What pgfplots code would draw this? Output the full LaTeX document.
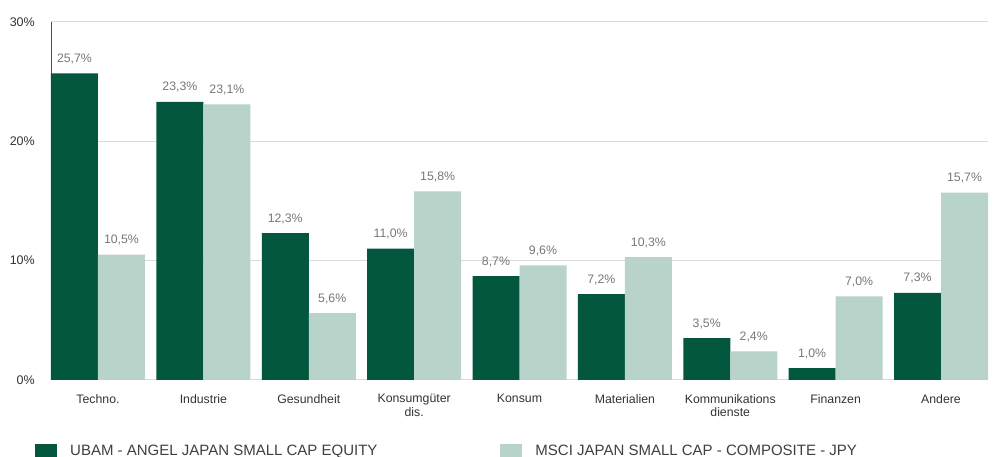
\documentclass[border=0pt]{standalone}
\usepackage{pgfplots}
\pgfplotsset{compat=1.18}
\usepackage{fontspec}
\setmainfont{Liberation Sans}
\definecolor{darkg}{HTML}{03573F}
\definecolor{lightg}{HTML}{B8D3C9}
\definecolor{valgray}{HTML}{777777}
\definecolor{tickgray}{HTML}{333333}
\definecolor{gridgray}{HTML}{DADADA}
\begin{document}
\begin{tikzpicture}
\useasboundingbox (-51pt,-77pt) rectangle (943pt,380pt);
\begin{axis}[
  at={(0pt,0pt)}, anchor=south west,
  scale only axis, width=937pt, height=358pt,
  ybar=0pt, bar width=47pt,
  xmin=-0.446, xmax=8.446, ymin=0, ymax=30,
  xtick={0,1,2,3,4,5,6,7,8},
  xticklabels={Techno.,Industrie,Gesundheit,{Konsumgüter\\dis.},Konsum,Materialien,{Kommunikations\\dienste},Finanzen,Andere},
  ytick={0,10,20,30},
  yticklabels={0\%,10\%,20\%,30\%},
  major tick length=0pt,
  axis x line*=bottom, axis y line*=left,
  x axis line style={draw=gridgray, line width=1pt, -},
  y axis line style={draw=black!70, line width=0.8pt, -},
  ymajorgrids, grid style={draw=gridgray, line width=1pt},
  xticklabel style={font=\fontsize{12.3}{13.8}\selectfont, text=tickgray, align=center, anchor=north, inner sep=0pt, yshift=-14pt},
  yticklabel style={font=\fontsize{12.5}{14}\selectfont, text=tickgray, anchor=east, inner sep=0pt, xshift=-16pt},
  nodes near coords={\pgfmathprintnumber[fixed, fixed zerofill, precision=1, use comma, assume math mode=true]{\pgfplotspointmeta}\%},
  every node near coord/.append style={font=\fontsize{12.3}{14}\selectfont, text=valgray, anchor=base, yshift=11pt, inner sep=0pt},
  legend columns=2,
  legend style={at={(-0.01708,-0.178)}, anchor=north west, draw=none, inner sep=0pt,
    font=\fontsize{15}{17}\selectfont, text=black!75,
    /tikz/every even column/.append style={column sep=123pt},
    nodes={inner sep=0pt}},
  legend image code/.code={\fill[#1, draw=none] (0pt,-7pt) rectangle (22pt,7pt);},
  /tikz/every odd column/.append style={column sep=13pt},
]
\addplot[fill=darkg, draw=none] coordinates {(0,25.7) (1,23.3) (2,12.3) (3,11.0) (4,8.7) (5,7.2) (6,3.5) (7,1.0) (8,7.3)};
\addplot[fill=lightg, draw=none] coordinates {(0,10.5) (1,23.1) (2,5.6) (3,15.8) (4,9.6) (5,10.3) (6,2.4) (7,7.0) (8,15.7)};
\legend{UBAM - ANGEL JAPAN SMALL CAP EQUITY, MSCI JAPAN SMALL CAP - COMPOSITE - JPY}
\end{axis}
\end{tikzpicture}
\end{document}
